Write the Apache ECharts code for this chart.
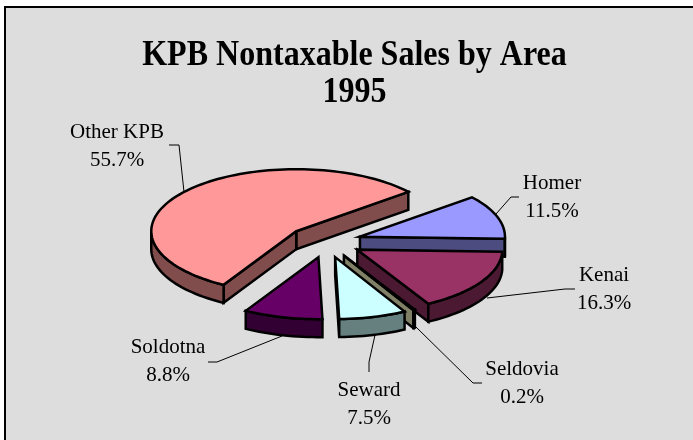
<!DOCTYPE html>
<html>
<head>
<meta charset="utf-8">
<style>html,body{margin:0;padding:0;background:#fff}#chart{width:693px;height:440px}</style>
<script src="https://cdn.jsdelivr.net/npm/echarts@6/dist/echarts.min.js"></script>
</head>
<body>
<div id="chart"></div>
<script>
var categories = ['Other KPB', 'Homer', 'Kenai', 'Seldovia', 'Seward', 'Soldotna'];
var shares = [55.7, 11.5, 16.3, 0.2, 7.5, 8.8];
var topColors = ['#ff9999', '#9999ff', '#993366', '#ffffcc', '#ccffff', '#660066'];
var sideColors = ['#804c4c', '#4c4c80', '#4c1933', '#808066', '#668080', '#330033'];
var titleLines = ['KPB Nontaxable Sales by Area', '1995'];

// label box centre and leader polyline for each slice
var labelCentres = [[117, 146], [552, 197], [604, 289], [522, 383], [369, 404], [168, 361]];
var leaders = [
  [[169, 145], [179, 145], [184, 192]],
  [[519, 197], [511, 197], [496, 214]],
  [[575, 289], [565, 289], [487, 298]],
  [[482, 383], [473, 383], [416, 327]],
  [[369, 372], [369, 362], [375, 335]],
  [[208, 362], [217, 362], [282, 336]]
];
// small per slice shifts, the original drawing is not quite regular
var nudges = [[0, 0], [-3, 0], [-2, -1], [-1, -1], [-1, -1], [2, -1]];

var cx = 326, cy = 242, rx = 145, ry = 62, depth = 18, explode = 39;
var startAngle = 39.4;
var RAD = Math.PI / 180;

function ellipsePoint(ox, oy, deg, dy) {
  return [ox + rx * Math.cos(deg * RAD), oy - ry * Math.sin(deg * RAD) + (dy || 0)];
}

function arcPoints(ox, oy, from, to, dy) {
  var pts = [], n = Math.max(2, Math.ceil(Math.abs(to - from) / 2));
  for (var i = 0; i <= n; i++) pts.push(ellipsePoint(ox, oy, from + (to - from) * i / n, dy));
  return pts;
}

function poly(points, fill) {
  return {
    type: 'polygon',
    shape: { points: points },
    style: { fill: fill, stroke: '#000', lineWidth: 2.5, lineJoin: 'miter', miterLimit: 6 }
  };
}

// angles run clockwise from Homer, Other KPB takes what is left
var ranges = [];
(function () {
  var a = startAngle;
  [1, 2, 3, 4, 5].forEach(function (i) {
    var sweep = shares[i] * 3.6;
    ranges[i] = [a - sweep, a];
    a -= sweep;
  });
  ranges[0] = [startAngle, startAngle + shares[0] * 3.6];
})();

function renderSlice(params, api) {
  var i = api.value(0);
  var lo = ranges[i][0], hi = ranges[i][1], mid = (lo + hi) / 2;
  var ox = cx + explode * Math.cos(mid * RAD) + nudges[i][0];
  var oy = cy - explode * (ry / rx) * Math.sin(mid * RAD) + nudges[i][1];
  var side = sideColors[i], kids = [];

  // side walls only where they face the viewer
  if (Math.cos(lo * RAD) > 0) {
    var a = ellipsePoint(ox, oy, lo);
    kids.push(poly([[ox, oy], a, [a[0], a[1] + depth], [ox, oy + depth]], side));
  }
  if (Math.cos(hi * RAD) < 0) {
    var b = ellipsePoint(ox, oy, hi);
    kids.push(poly([[ox, oy], b, [b[0], b[1] + depth], [ox, oy + depth]], side));
  }
  // rim: lower half of the ellipse only
  [[180, 360], [-180, 0]].forEach(function (r) {
    var f = Math.max(lo, r[0]), t = Math.min(hi, r[1]);
    if (t > f) {
      kids.push(poly(arcPoints(ox, oy, f, t).concat(arcPoints(ox, oy, t, f, depth)), side));
    }
  });
  kids.push(poly([[ox, oy]].concat(arcPoints(ox, oy, lo, hi)), topColors[i]));
  return { type: 'group', children: kids };
}

function renderLabel(params, api) {
  var i = api.value(0), c = labelCentres[i];
  return {
    type: 'group',
    children: [
      {
        type: 'polyline',
        shape: { points: leaders[i] },
        style: { fill: null, stroke: '#000', lineWidth: 1 }
      },
      {
        type: 'text',
        x: c[0],
        y: c[1],
        style: {
          text: categories[i] + '\n' + shares[i].toFixed(1) + '%',
          fill: '#000',
          font: '21px "Liberation Serif"',
          lineHeight: 28,
          align: 'center',
          verticalAlign: 'middle'
        }
      }
    ]
  };
}

function titleText(text, y) {
  return {
    type: 'text',
    x: 354.5,
    y: y,
    scaleX: 0.915,
    silent: true,
    style: {
      text: text,
      fill: '#000',
      font: 'bold 35px "Liberation Serif"',
      align: 'center',
      verticalAlign: 'middle'
    }
  };
}

var sliceData = categories.map(function (c, i) { return [i, shares[i]]; });

var chart = echarts.init(document.getElementById('chart'), null, { renderer: 'canvas' });
chart.setOption({
  animation: false,
  backgroundColor: '#fff',
  graphic: [
    {
      type: 'rect',
      z: -1,
      silent: true,
      shape: { x: 5, y: 7, width: 700, height: 445 },
      style: { fill: '#dddddd', stroke: '#000', lineWidth: 2 }
    },
    titleText(titleLines[0], 56),
    titleText(titleLines[1], 93)
  ],
  series: [
    { type: 'custom', coordinateSystem: 'none', data: sliceData, renderItem: renderSlice, silent: true, z: 2 },
    { type: 'custom', coordinateSystem: 'none', data: sliceData, renderItem: renderLabel, silent: true, z: 1 }
  ]
});
</script>
</body>
</html>
